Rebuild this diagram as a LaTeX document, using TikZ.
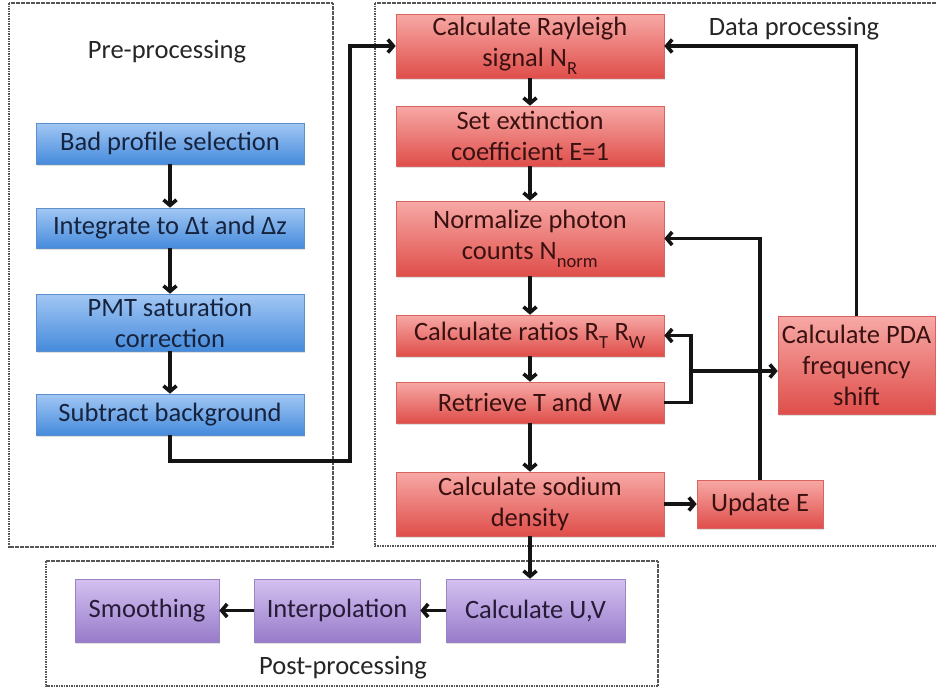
\documentclass[tikz,border=0pt]{standalone}
\usepackage{fontspec}
\setmainfont{Carlito}
\usetikzlibrary{arrows.meta,shadows}

\definecolor{bluetop}{HTML}{A2C7F4}
\definecolor{bluebot}{HTML}{468BDC}
\definecolor{blueline}{HTML}{5C8FCB}
\definecolor{bluetext}{HTML}{16233E}
\definecolor{redtop}{HTML}{F7A9A6}
\definecolor{redbot}{HTML}{DF4E4A}
\definecolor{redline}{HTML}{D8635F}
\definecolor{redtext}{HTML}{3A1111}
\definecolor{purtop}{HTML}{D4C1F0}
\definecolor{purbot}{HTML}{987BCA}
\definecolor{purline}{HTML}{9A84C2}
\definecolor{purtext}{HTML}{261B36}
\definecolor{framecol}{HTML}{555555}

% subscript set a little lower than the default
\newcommand{\lowsub}[1]{\raisebox{-0.35ex}{\textsubscript{#1}}}

\tikzset{
  stage/.style={rectangle, line width=0.6pt, align=center, inner sep=2pt,
    font=\fontsize{26.5}{31}\selectfont,
    drop shadow={opacity=0.25, shadow xshift=1.2pt, shadow yshift=-1.8pt}},
  bluebox/.style={stage, draw=blueline, top color=bluetop, bottom color=bluebot, text=bluetext},
  redbox/.style={stage, draw=redline, top color=redtop, bottom color=redbot, text=redtext},
  purbox/.style={stage, draw=purline, top color=purtop, bottom color=purbot, text=purtext},
  group/.style={draw=framecol, line width=1.1pt, dash pattern=on 1.6pt off 0.9pt},
  grouplabel/.style={font=\fontsize{26.5}{31}\selectfont, text=black!85},
  flow/.style={line width=3.6pt, black!92, line join=miter,
    -{Straight Barb[length=5.5pt,width=13pt]}},
}

\begin{document}
\begin{tikzpicture}[x=1pt,y=-1pt]
\useasboundingbox (0,0) rectangle (937,689);
\fill[white] (0,0) rectangle (937,689);

% group frames
\draw[group] (9,3) rectangle (333,547);
\draw[group] (375,3) rectangle (950,546);
\draw[group] (46,561) rectangle (658,686);

\node[grouplabel] (prelabel) at (167,52) {Pre-processing};
\node[grouplabel] (datalabel) at (794,29) {Data processing};
\node[grouplabel] (postlabel) at (343,668) {Post-processing};

% pre-processing chain
\node[bluebox, minimum width=268pt, minimum height=41pt] (bad) at (170,143.5) {Bad profile selection};
\node[bluebox, minimum width=268pt, minimum height=40pt] (integ) at (170,228) {Integrate to Δt and Δz};
\node[bluebox, minimum width=268pt, minimum height=57pt] (pmt) at (170,322.5) {PMT saturation\\correction};
\node[bluebox, minimum width=268pt, minimum height=41pt] (sub) at (170,414.5) {Subtract background};

% data processing
\node[redbox, minimum width=268pt, minimum height=64pt] (ray) at (530,46) {Calculate Rayleigh\\signal N\lowsub{R}};
\node[redbox, minimum width=268pt, minimum height=60pt] (ext) at (530,136) {Set extinction\\coefficient E=1};
\node[redbox, minimum width=268pt, minimum height=75pt] (norm) at (530,238.5) {Normalize photon\\counts N\lowsub{norm}};
\node[redbox, minimum width=268pt, minimum height=41pt] (rat) at (530,335.5) {Calculate ratios R\lowsub{T} R\lowsub{W}};
\node[redbox, minimum width=268pt, minimum height=41pt] (ret) at (530,402.5) {Retrieve T and W};
\node[redbox, minimum width=268pt, minimum height=64pt] (sod) at (530,504) {Calculate sodium\\density};
\node[redbox, minimum width=126pt, minimum height=48pt] (upd) at (760,504) {Update E};
\node[redbox, minimum width=157pt, minimum height=98pt] (pda) at (856.5,365) {Calculate PDA\\frequency\\shift};

% post-processing
\node[purbox, minimum width=144pt, minimum height=63pt] (smo) at (147,610.5) {Smoothing};
\node[purbox, minimum width=166pt, minimum height=63pt] (interp) at (337,610.5) {Interpolation};
\node[purbox, minimum width=179pt, minimum height=63pt] (uv) at (535.5,610.5) {Calculate U,V};

% routing points
\coordinate (preout) at (350,461);
\coordinate (retknee) at (691,402.5);
\coordinate (pdabranch) at (691,371);

% connectors
\draw[flow] (bad) -- (integ);
\draw[flow] (integ) -- (pmt);
\draw[flow] (pmt) -- (sub);
\draw[flow] (sub.south) |- (preout) |- (ray.west);

\draw[flow] (ray) -- (ext);
\draw[flow] (ext) -- (norm);
\draw[flow] (norm) -- (rat);
\draw[flow] (rat) -- (ret);
\draw[flow] (ret) -- (sod);
\draw[flow] (sod) -- (upd);
\draw[flow] (upd.north) |- (norm.east);
\draw[flow] (ret.east) -- (retknee) |- (rat.east);
\draw[flow] (pdabranch) -- (pdabranch -| pda.west);
\draw[flow] (pda.north) |- (ray.east);

\draw[flow] (sod.south) -- (sod.south |- uv.north);
\draw[flow] (uv) -- (interp);
\draw[flow] (interp) -- (smo);
\end{tikzpicture}
\end{document}
